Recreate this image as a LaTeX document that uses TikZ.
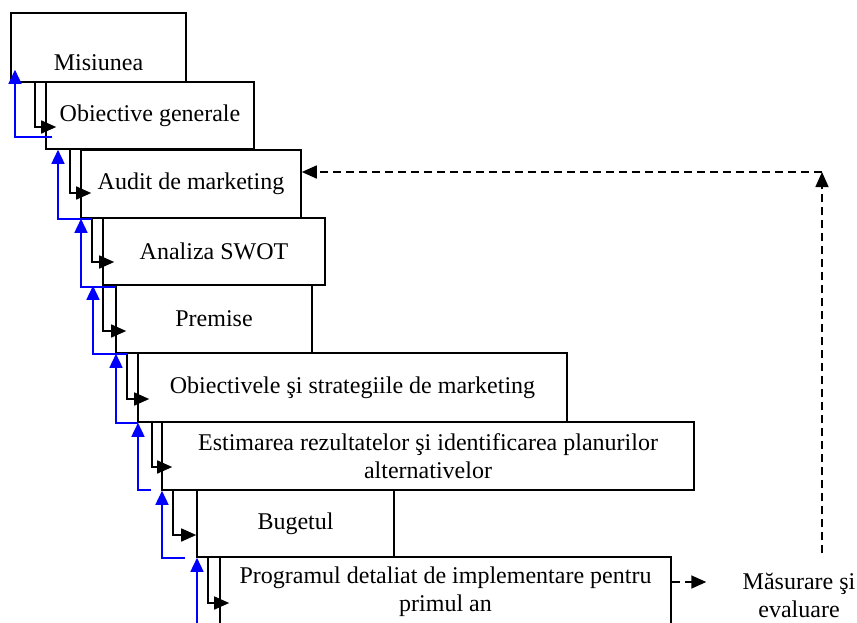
\documentclass[tikz,border=0pt]{standalone}
\usepackage{fontspec}
\setmainfont{Liberation Serif}
\usetikzlibrary{arrows.meta,calc}

\begin{document}
\begin{tikzpicture}[x=0.5pt,y=-0.5pt,
    txt/.style={font=\fontsize{12}{14}\selectfont, align=center, inner sep=0pt},
    box/.style={txt, draw, line width=0.8pt},
    fwd/.style={line width=0.8pt, -{Triangle[length=7.5pt,width=6.5pt]}},
    back/.style={draw=blue, line width=0.8pt, -{Triangle[length=7pt,width=6.5pt]}},
    fb/.style={line width=0.8pt, dash pattern=on 4pt off 2.5pt, -{Triangle[length=7.5pt,width=6.5pt]}}]
    \useasboundingbox (0,0) rectangle (857,622);
    \clip (0,0) rectangle (857,622);

    % 各阶段方框
    \node[box, minimum width=87.5pt, minimum height=34.5pt,
          label={[txt, name=t1, yshift=-7.75pt]center:Misiunea}] (b1) at (98.5,47.5) {};
    \node[box, minimum width=104pt, minimum height=33.5pt] (b2) at (150,115.5) {Obiective generale};
    \node[box, minimum width=110pt, minimum height=34pt] (b3) at (191,184) {Audit de marketing};
    \node[box, minimum width=111pt, minimum height=33.5pt] (b4) at (214,251.5) {Analiza SWOT};
    \node[box, minimum width=98pt, minimum height=34pt] (b5) at (214,319) {Premise};
    \node[box, minimum width=214.5pt, minimum height=34.5pt] (b6) at (352.5,387.5) {Obiectivele şi strategiile de marketing};
    \node[box, minimum width=266pt, minimum height=34pt] (b7) at (428,456) {Estimarea rezultatelor şi identificarea planurilor\\alternativelor};
    \node[box, minimum width=98.5pt, minimum height=33.5pt] (b8) at (295.5,523.5) {Bugetul};
    \node[box, minimum width=225.5pt, minimum height=34.5pt] (b9) at (445.5,591.5) {Programul detaliat de implementare pentru\\primul an};

    % 向下的黑色箭头
    \foreach \a/\b/\xv/\ya/\d in {b1/b2/35/127/11, b2/b3/70/193/11, b3/b4/92/262/12, b4/b5/103/331/11,
                                  b5/b6/127/399/12, b6/b7/152/467/11, b7/b8/173/535/0, b8/b9/208/603/10}
        \draw[fwd] (\a.south -| \xv,0) |- ($(\b.west |- 0,\ya)+(\d,0)$);

    % 向上的蓝色箭头
    \foreach \a/\b/\sx/\sd/\xv/\td in {b1/b2/52/-13/15/-13, b2/b3/92/0/58/0, b3/b4/115/1/81/0, b4/b5/127/0/93/0,
                                       b5/b6/138/0/116/0, b6/b7/151/-1/138/0, b7/b8/185/0/162/0, b8/b9/197/20/197/0}
        \draw[back] ($(\b.south -| \sx,0)+(0,\sd)$) -| ($(\a.south -| \xv,0)+(0,\td)$);

    % 测量与评估 (反馈)
    \node[txt] (masur) at (799,595) {Măsurare şi\\evaluare};
    \coordinate (corner) at (822,172);
    \draw[fb, shorten >=18pt] (b9.east |- 0,582) -- (masur.west |- 0,582);
    \draw[fb, shorten <=9.5pt] (masur.north -| corner) -- (corner);
    \draw[fb] (corner) -- (b3.east |- corner);
\end{tikzpicture}
\end{document}
